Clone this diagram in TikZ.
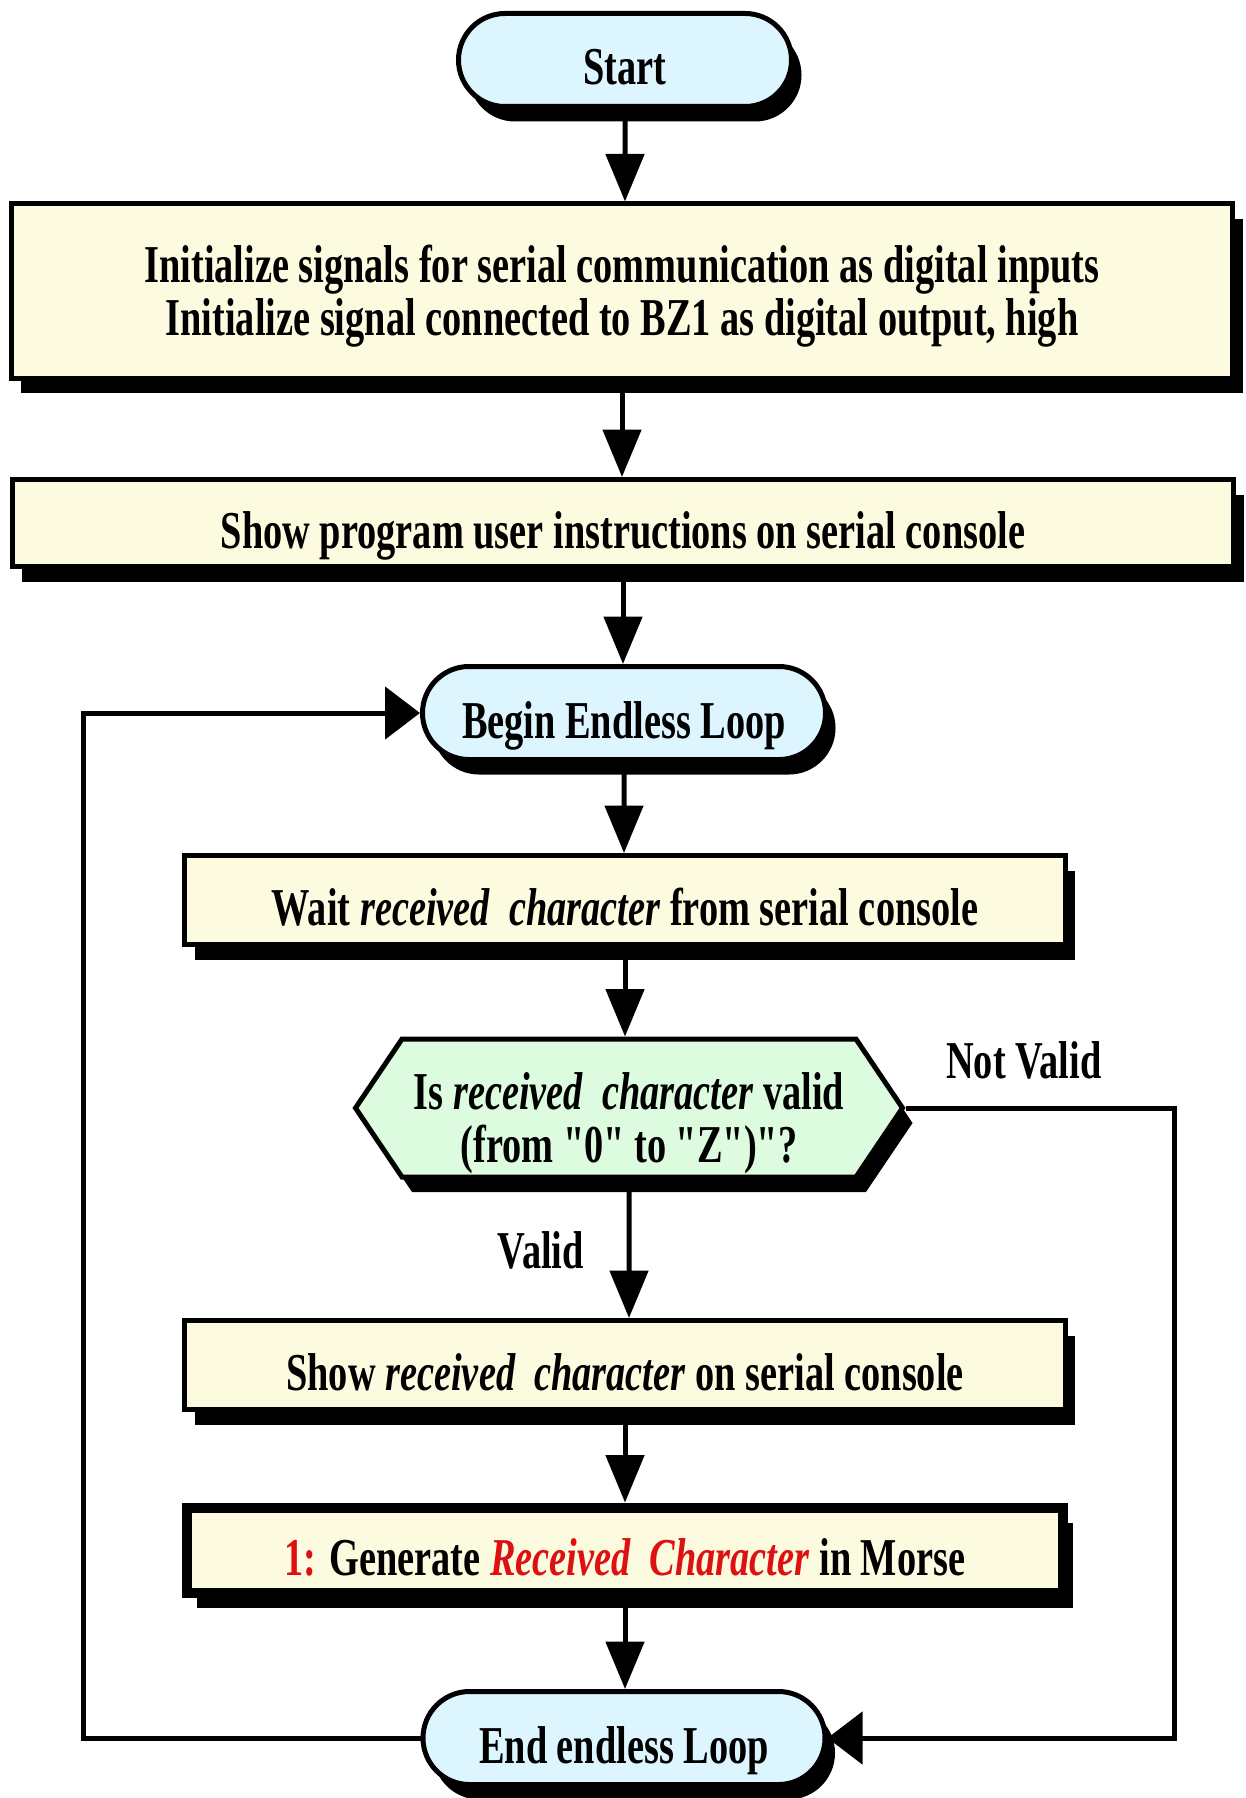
\documentclass[tikz,border=0pt]{standalone}
\usepackage{fontspec}
\setmainfont{Liberation Serif}[FakeStretch=0.72]
\newfontfamily\plainfont{Liberation Serif}[FakeStretch=0.72]
\usepackage{xcolor}
\usepackage{tikz}
\usetikzlibrary{arrows.meta,shapes.misc,shapes.symbols,shadows}
\definecolor{termfill}{HTML}{DDF5FF}
\definecolor{procfill}{HTML}{FCFBDF}
\definecolor{testfill}{HTML}{DDFBDF}
\definecolor{morsered}{HTML}{DD1111}
\tikzset{
  >=Triangle,
  box shadow/.style={
    drop shadow={shadow xshift=2mm,shadow yshift=-3mm,fill=black,opacity=1}
  },
  chart text/.style={
    font=\bfseries\fontsize{30.3}{30}\selectfont,
    align=center
  },
  one line/.style={
    text height=12mm,
    text depth=2mm
  },
  terminal/.style={
    rounded rectangle,
    draw=black,
    fill=termfill,
    line width=1mm,
    minimum height=18.6mm,
    inner sep=0pt,
    chart text,
    one line,
    box shadow
  },
  process/.style={
    rectangle,
    draw=black,
    fill=procfill,
    line width=1mm,
    inner sep=0pt,
    chart text,
    box shadow
  },
  subroutine/.style={
    process,
    line width=2mm
  },
  decision/.style={
    signal,
    signal to=west and east,
    signal pointer angle=112,
    draw=black,
    fill=testfill,
    line width=1mm,
    inner sep=0pt,
    chart text,
    box shadow
  },
  flow/.style={
    draw=black,
    line width=1mm,
    -{Triangle[length=9.5mm,width=7.6mm]}
  },
  back flow/.style={
    draw=black,
    line width=1mm,
    -{Triangle[length=7mm,width=10.4mm]}
  },
  branch label/.style={
    chart text
  }
}

\begin{document}
\begin{tikzpicture}[x=0.2mm,y=-0.2mm]
  \useasboundingbox (0,0) rectangle (1245,1798);

  \node[terminal,minimum width=66.6mm] (Start) at (625,60) {Start};

  \node[process,minimum width=244.2mm,minimum height=34.8mm] (Init) at (622,291)
    {\rule{0pt}{9.6mm}Initialize signals for serial communication as digital inputs\\
     Initialize signal connected to BZ1 as digital output, high};

  \node[process,one line,minimum width=244.2mm,minimum height=17.4mm] (Help) at (623,523)
    {Show program user instructions on serial console};

  \node[terminal,minimum width=80.6mm] (Begin) at (624,713) {Begin Endless Loop};

  \node[process,one line,minimum width=176mm,minimum height=17.8mm] (Wait) at (625,900)
    {Wait \textit{received\ \ character} from serial console};

  \node[decision,minimum width=109.4mm,minimum height=27.6mm] (Valid) at (629,1108)
    {\rule{0pt}{13.4mm}Is \textit{received\ \ character} valid\\
     {\plainfont (from "0" to "Z")"?}};

  \node[process,one line,minimum width=176mm,minimum height=17.8mm] (Echo) at (625,1365)
    {Show \textit{received\ \ character} on serial console};

  \node[subroutine,one line,minimum width=175.2mm,minimum height=17mm] (Morse) at (625,1550)
    {\textcolor{morsered}{1:} Generate
     \textcolor{morsered}{\textit{Received\ \ Character}} in Morse};

  \node[terminal,minimum width=80.4mm] (End) at (624,1738) {End endless Loop};

  \coordinate (loopL) at (83,1738);
  \coordinate (loopR) at (1174,1108);

  \draw[flow] (Start) -- (Start |- Init.north);
  \draw[flow] (Init) -- (Init |- Help.north);
  \draw[flow] (Help) -- (Help |- Begin.north);
  \draw[flow] (Begin) -- (Begin |- Wait.north);
  \draw[flow] (Wait) -- (Wait |- Valid.north);
  \draw[flow] (Valid) -- (Valid |- Echo.north);
  \draw[flow] (Echo) -- (Echo |- Morse.north);
  \draw[flow] (Morse) -- (Morse |- End.north);

  \draw[back flow] (End.west) -- (loopL) -- (loopL |- Begin.west) -- (Begin.west);
  \draw[back flow] (Valid.east) -- (loopR) -- (loopR |- End.east) -- (End.east);

  \node[branch label,anchor=west] (notvalid) at (940,1060) {Not Valid};
  \node[branch label,anchor=east] (isvalid) at (590,1250) {Valid};
\end{tikzpicture}
\end{document}
